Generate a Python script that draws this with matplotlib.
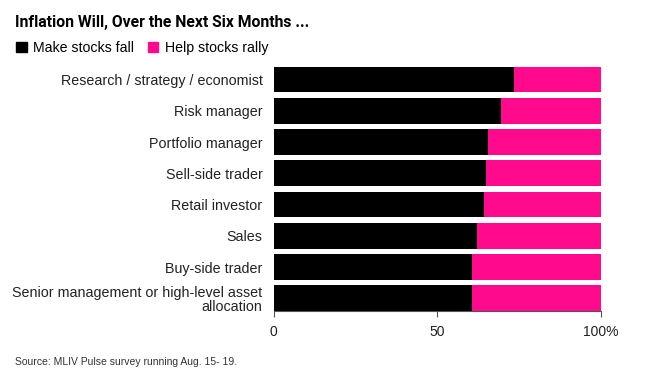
import matplotlib
matplotlib.use('Agg')
from matplotlib import pyplot as plt
from matplotlib import font_manager
from matplotlib.patches import Patch

categories = ['Research / strategy / economist', 'Risk manager', 'Portfolio manager',
              'Sell-side trader', 'Retail investor', 'Sales', 'Buy-side trader',
              'Senior management or high-level asset\nallocation']
fall = [73.6, 69.6, 65.4, 65.0, 64.3, 62.3, 60.7, 60.7]
rally = [100 - v for v in fall]
series_names = ['Make stocks fall', 'Help stocks rally']
tick_vals = [0, 50, 100]
tick_labels = ['0', '50', '100%']

plt.rcParams['font.family'] = ['Liberation Sans', 'DejaVu Sans']

# narrow face for title/source if it is there
names = {f.name for f in font_manager.fontManager.ttflist}
if 'Liberation Sans Narrow' in names:
  narrow = ['Liberation Sans Narrow', 'Liberation Sans']
  title_font, title_size, source_size = narrow, 13, 8.5
else:
  narrow = ['Liberation Sans', 'DejaVu Sans']
  title_font, title_size, source_size = ['Roboto', 'Liberation Sans'], 11.3, 7.5

BLACK = '#000000'
PINK = '#ff0a8c'

fig = plt.figure(figsize=(6.53, 3.90), dpi=100)
ax = fig.add_axes([0.4191, 0.2023, 0.5008, 0.6338])

y = list(range(len(categories)))
ax.barh(y, fall, height=0.82, color=BLACK)
ax.barh(y, rally, left=fall, height=0.82, color=PINK)

ax.set_ylim(len(categories) - 1 + 0.41, -0.5)
ax.set_xlim(0, 100)
ax.set_yticks(y)
ax.set_yticklabels(categories, fontsize=10.3, color='#222222', linespacing=1.0)
ax.set_xticks(tick_vals)
ax.set_xticklabels(tick_labels, fontsize=10, color='#222222')
ax.tick_params(axis='y', length=0, pad=8)
ax.tick_params(axis='x', length=4.5, width=0.8, color='#555555', pad=5.5)
for s in ['top', 'right', 'left']:
  ax.spines[s].set_visible(False)
ax.spines['bottom'].set_color('#555555')
ax.spines['bottom'].set_linewidth(0.8)

fig.text(0.023, 0.962, 'Inflation Will, Over the Next Six Months ...', fontsize=title_size,
         fontweight='bold', va='top', ha='left', family=title_font)

handles = [Patch(color=BLACK), Patch(color=PINK)]
fig.legend(handles, series_names, loc='center left', bbox_to_anchor=(0.025, 0.877),
           ncol=2, frameon=False, fontsize=10.2, handlelength=0.75, handleheight=0.75,
           handletextpad=0.45, columnspacing=0.95, borderpad=0, borderaxespad=0)

fig.text(0.023, 0.072, 'Source: MLIV Pulse survey running Aug. 15- 19.', fontsize=source_size,
         color='#333333', va='center', ha='left', family=narrow)

plt.savefig('out.png', dpi=100)
